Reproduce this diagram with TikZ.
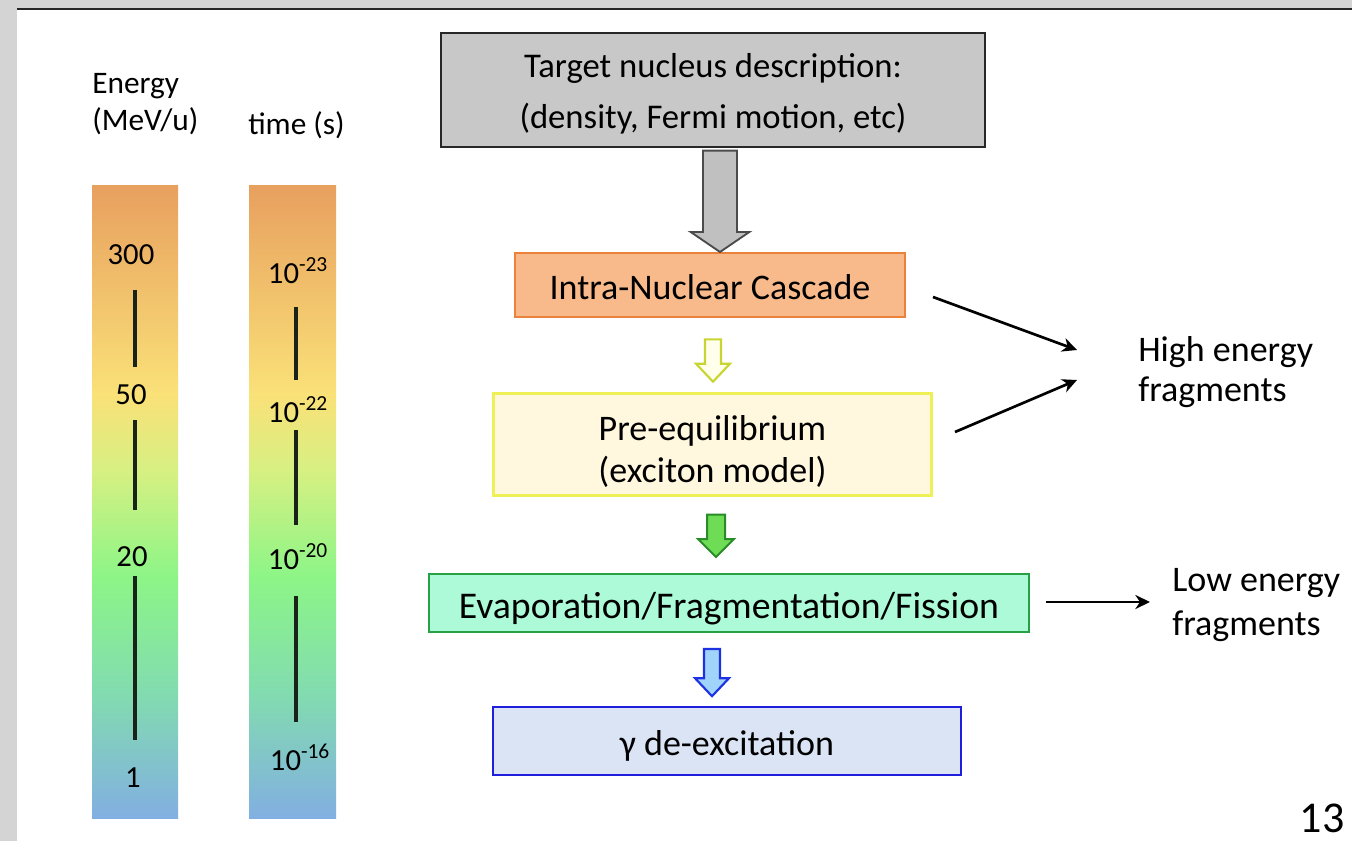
\documentclass[tikz,border=0pt]{standalone}
\usepackage{fontspec}
\setmainfont{Carlito}
\usetikzlibrary{arrows.meta,calc}

\definecolor{framegray}{RGB}{212,212,212}
\definecolor{tickc}{RGB}{25,35,25}
\definecolor{bcA}{RGB}{130,175,225}
\definecolor{bcB}{RGB}{130,220,175}
\definecolor{bcC}{RGB}{140,245,135}
\definecolor{bcD}{RGB}{215,240,130}
\definecolor{bcE}{RGB}{250,225,120}
\definecolor{bcF}{RGB}{232,160,95}
\definecolor{tgtfill}{RGB}{200,200,200}
\definecolor{tgtdraw}{RGB}{40,40,40}
\definecolor{incfill}{RGB}{248,186,138}
\definecolor{incdraw}{RGB}{235,130,60}
\definecolor{prefill}{RGB}{255,248,222}
\definecolor{predraw}{RGB}{238,240,85}
\definecolor{evpfill}{RGB}{172,250,216}
\definecolor{evpdraw}{RGB}{40,160,70}
\definecolor{gamfill}{RGB}{218,228,245}
\definecolor{gamdraw}{RGB}{30,30,220}
\definecolor{gaafill}{RGB}{192,192,192}
\definecolor{gaadraw}{RGB}{75,75,75}
\definecolor{yaafill}{RGB}{255,255,235}
\definecolor{yaadraw}{RGB}{200,212,50}
\definecolor{naafill}{RGB}{110,220,85}
\definecolor{naadraw}{RGB}{40,140,40}
\definecolor{baafill}{RGB}{160,212,250}
\definecolor{baadraw}{RGB}{30,50,225}

\pgfdeclareverticalshading{barshade}{100bp}{color(0bp)=(bcA); color(25bp)=(bcA); color(35bp)=(bcB); color(44bp)=(bcC); color(52.5bp)=(bcD); color(58.5bp)=(bcE); color(75bp)=(bcF); color(100bp)=(bcF)}

\newcommand\blockarr[9]{%
  \draw[#1] let \p0=(#4,0), \p1=(#2.south), \p2=(#3.north) in
    (\x0-#7,\y1-#5) -- (\x0+#7,\y1-#5) -- (\x0+#7,\y2+#6+#9) -- (\x0+#8,\y2+#6+#9)
    -- (\x0,\y2+#6) -- (\x0-#8,\y2+#6+#9) -- (\x0-#7,\y2+#6+#9) -- cycle;}

\begin{document}
\begin{tikzpicture}[x=0.75pt,y=-0.75pt,
  box/.style={draw, line width=1.5pt, inner sep=0pt, align=center, font=\fontsize{27}{38}\selectfont},
  oneline/.style={text height=21.6pt, text depth=0pt},
  lbl/.style={inner sep=0pt, anchor=base west, font=\fontsize{23.5}{28}\selectfont},
  num/.style={inner sep=0pt, font=\fontsize{23}{28}\selectfont},
  tick/.style={line width=3pt, draw=tickc},
  thinarr/.style={line width=2pt, -{Stealth[length=11pt,width=10.5pt,inset=3.5pt]}},
  side/.style={inner sep=0pt, align=left, anchor=west},
  grayarr/.style={fill=gaafill, draw=gaadraw, line width=1.4pt},
  yelarr/.style={fill=yaafill, draw=yaadraw, line width=1.6pt},
  grnarr/.style={fill=naafill, draw=naadraw, line width=1.5pt},
  bluarr/.style={fill=baafill, draw=baadraw, line width=1.6pt}
]
\useasboundingbox (0,0) rectangle (1352,841);
\fill[white] (0,0) rectangle (1352,841);
\fill[framegray] (0,0) rectangle (1352,8);
\fill[framegray] (0,0) rectangle (17,841);
\draw[line width=1.8pt, draw=black!85] (17,9) -- (1352,9);

% scale bars
\shade[shading=barshade] (92,186) rectangle (178,818);
\shade[shading=barshade] (249,186) rectangle (336,818);

\node[lbl] (elab1) at (92,94) {Energy};
\node[lbl] (elab2) at (92,131) {(MeV/u)};
\node[lbl] (tlab) at (248,135) {time (s)};

\node[num] (e300) at (131,255) {300};
\node[num] (e50) at (131,395) {50};
\node[num] (e20) at (132,557) {20};
\node[num] (e1) at (133,778) {1};
\draw[tick] (135,290) -- (135,367);
\draw[tick] (135,420) -- (135,510);
\draw[tick] (135,576) -- (135,740);

\node[num] (t23) at (298,271) {10\textsuperscript{-23}};
\node[num] (t22) at (298,410) {10\textsuperscript{-22}};
\node[num] (t20) at (298,557) {10\textsuperscript{-20}};
\node[num] (t16) at (300,757) {10\textsuperscript{-16}};
\draw[tick] (296,307) -- (296,380);
\draw[tick] (296,430) -- (296,525);
\draw[tick] (296,596) -- (296,722);

% flow boxes
\node[box, fill=tgtfill, draw=tgtdraw, minimum width=408pt, minimum height=85.5pt,
  font=\fontsize{26}{38.5}\selectfont] (tgt) at (713,90)
  {\rule{0pt}{24pt}Target nucleus description:\\(density, Fermi motion, etc)};
\node[box, oneline, fill=incfill, draw=incdraw, minimum width=292.5pt, minimum height=48pt] (inc) at (710,285)
  {Intra-Nuclear Cascade};
\node[box, fill=prefill, draw=predraw, line width=2.2pt, minimum width=329pt, minimum height=77pt,
  font=\fontsize{27}{31}\selectfont] (pre) at (712.5,444.5)
  {\rule{0pt}{29pt}Pre-equilibrium\\(exciton model)};
\node[box, text height=22.6pt, text depth=0pt, fill=evpfill, draw=evpdraw, minimum width=450pt, minimum height=43.5pt,
  font=\fontsize{28.3}{34}\selectfont] (evp) at (729,603)
  {Evaporation/Fragmentation/Fission};
\node[box, oneline, fill=gamfill, draw=gamdraw, line width=2.2pt, minimum width=351pt, minimum height=51pt] (gam) at (727,741)
  {γ de-excitation};

% block arrows
\blockarr{grayarr}{tgt}{inc}{720}{2pt}{0pt}{12.75pt}{22pt}{15pt}
\blockarr{yelarr}{inc}{pre}{713}{16pt}{7.5pt}{6pt}{12.75pt}{13.5pt}
\blockarr{grnarr}{pre}{evp}{716}{13pt}{12pt}{6.75pt}{13.5pt}{13.5pt}
\blockarr{bluarr}{evp}{gam}{712}{12pt}{7pt}{6pt}{12.75pt}{13.5pt}

% outputs
\node[side, font=\fontsize{27}{30}\selectfont] (hef) at (1138,372) {High energy\\fragments};
\node[side, font=\fontsize{27}{33}\selectfont] (lef) at (1172,605) {Low energy\\fragments};
\coordinate (h1s) at (933,297);
\coordinate (h1e) at (1077,350);
\coordinate (h2s) at (955,432);
\coordinate (h2e) at (1077,380);
\coordinate (l1s) at (1046,602);
\coordinate (l1e) at (1150,602);
\draw[thinarr] (h1s) -- (h1e);
\draw[thinarr] (h2s) -- (h2e);
\draw[thinarr] (l1s) -- (l1e);

\node[inner sep=0pt, font=\fontsize{33}{38}\selectfont] (pg) at (1322,818) {13};
\end{tikzpicture}
\end{document}
